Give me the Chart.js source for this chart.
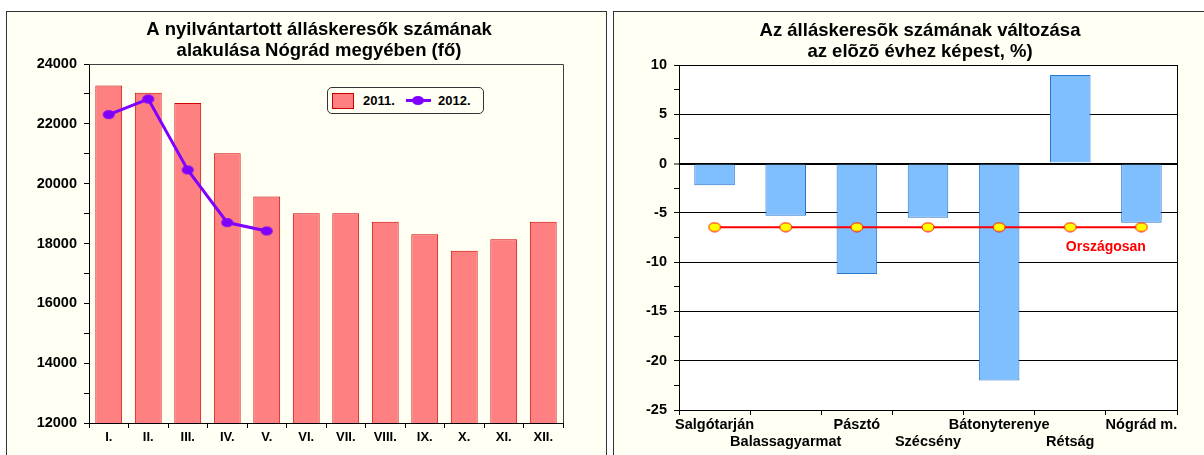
<!DOCTYPE html>
<html><head><meta charset="utf-8">
<script src="https://cdn.jsdelivr.net/npm/chart.js@4.4.1/dist/chart.umd.min.js"></script>
<style>
html,body{margin:0;padding:0;background:#fff;width:1204px;height:455px;overflow:hidden;font-family:"Liberation Sans",Arial,sans-serif;}
.panel{position:absolute;background:#fffff3;border:1px solid #333;box-sizing:border-box;}
#p1{left:6px;top:11px;width:601px;height:470px;}
#p2{left:613px;top:11px;width:620px;height:470px;}
canvas{position:absolute;}
#c1{left:7px;top:12px;}
#c2{left:614px;top:12px;}
#legend{position:absolute;left:327px;top:87px;width:157px;height:27px;border:1px solid #333;border-radius:5px;box-sizing:border-box;background:#fffff3;font-weight:bold;font-size:13px;color:#000;}
#legend span{position:absolute;display:block;}
#lgSq{left:4px;top:5px;width:22px;height:16px;background:#ff8080;border:1px solid #cc0000;box-sizing:border-box;}
#lgLine{left:78px;top:11px;width:25px;height:3px;background:#7f00ff;}
#lgDot{left:84px;top:8px;width:12px;height:9px;border-radius:50%;background:#7f00ff;}
.lt{top:5px;line-height:16px;}
</style>
</head>
<body>
<div class="panel" id="p1"></div>
<div class="panel" id="p2"></div>
<canvas id="c1" width="624" height="443"></canvas>
<canvas id="c2" width="612" height="443"></canvas>
<div id="legend"><span id="lgSq"></span><span class="lt" id="lg1" style="left:35px"></span><span id="lgLine"></span><span id="lgDot"></span><span class="lt" id="lg2" style="left:110px"></span></div>
<script>
// ---- data ----
const months = ['I.','II.','III.','IV.','V.','VI.','VII.','VIII.','IX.','X.','XI.','XII.'];
const jobseekers2011 = [23280, 23040, 22700, 21020, 19570, 19010, 19010, 18730, 18310, 17760, 18140, 18730];
const jobseekers2012 = [22310, 22830, 20460, 18700, 18420, null, null, null, null, null, null, null];
const leftSeriesNames = ['2011.', '2012.'];
const leftTitle = ['A nyilvántartott álláskeresők számának', 'alakulása Nógrád megyében (fő)'];
const leftYTickLabels = [12000, 14000, 16000, 18000, 20000, 22000, 24000];

const towns = ['Salgótarján','Balassagyarmat','Pásztó','Szécsény','Bátonyterenye','Rétság','Nógrád m.'];
const changePct = [-2.2, -5.3, -11.2, -5.5, -22.0, 9.0, -6.0];
const nationalPct = [-6.45, -6.45, -6.45, -6.45, -6.45, -6.45, -6.45];
const nationalLabel = 'Országosan';
const rightTitle = ['Az álláskeresõk számának változása', 'az elõzõ évhez képest, %)'];
const rightYTickLabels = [-25, -20, -15, -10, -5, 0, 5, 10];

const FONT = '"Liberation Sans", Arial, sans-serif';

function ellipsePoint(w, h, fill, stroke) {
  const c = document.createElement('canvas');
  c.width = w; c.height = h;
  const g = c.getContext('2d');
  g.beginPath();
  g.ellipse(w / 2, h / 2, w / 2 - 1, h / 2 - 1, 0, 0, Math.PI * 2);
  g.fillStyle = fill; g.fill();
  if (stroke) { g.strokeStyle = stroke; g.lineWidth = 1; g.stroke(); }
  return c;
}
const purpleDot = ellipsePoint(14, 11, '#7f00ff', null);
const yellowDot = ellipsePoint(14, 11, '#ffff00', '#ff0000');

document.getElementById('lg1').textContent = leftSeriesNames[0];
document.getElementById('lg2').textContent = leftSeriesNames[1];

// invisible spacer axis on the right (keeps the title centred where the original has it)
function spacerAxis(w) {
  return { type: 'linear', position: 'right', display: true,
    grid: { display: false, drawTicks: false }, border: { display: false },
    ticks: { display: false }, afterFit(s) { s.width = w; } };
}

const leftFrame = {
  id: 'leftFrame',
  afterDraw(chart) {
    const a = chart.chartArea, ctx = chart.ctx;
    ctx.save();
    ctx.strokeStyle = '#404040'; ctx.lineWidth = 1;
    ctx.beginPath();
    ctx.moveTo(Math.round(a.left), Math.round(a.top) + 0.5);
    ctx.lineTo(Math.round(a.right) + 0.5, Math.round(a.top) + 0.5);
    ctx.lineTo(Math.round(a.right) + 0.5, Math.round(a.bottom));
    ctx.stroke();
    ctx.restore();
  }
};
const rightBg = {
  id: 'rightBg',
  beforeDraw(chart) {
    const a = chart.chartArea, ctx = chart.ctx;
    ctx.save(); ctx.fillStyle = '#ffffff';
    ctx.fillRect(a.left, a.top, a.right - a.left, a.bottom - a.top);
    ctx.restore();
  },
  afterDraw(chart) {
    const a = chart.chartArea, ctx = chart.ctx;
    ctx.save(); ctx.strokeStyle = '#000'; ctx.lineWidth = 1;
    ctx.beginPath();
    ctx.moveTo(Math.round(a.right) + 0.5, Math.round(a.top));
    ctx.lineTo(Math.round(a.right) + 0.5, Math.round(a.bottom));
    ctx.stroke(); ctx.restore();
  }
};
const nationalLabelPlugin = {
  id: 'natLabel',
  afterDatasetsDraw(chart) {
    const x = chart.scales.x, y = chart.scales.y, ctx = chart.ctx;
    const n = towns.length;
    const px = (x.getPixelForValue(n - 2) + x.getPixelForValue(n - 1)) / 2;
    const py = y.getPixelForValue(nationalPct[n - 1]) + 20;
    ctx.save();
    ctx.font = 'bold 14px ' + FONT;
    ctx.fillStyle = '#ff0000'; ctx.textAlign = 'center'; ctx.textBaseline = 'middle';
    ctx.fillText(nationalLabel, px, py);
    ctx.restore();
  }
};

new Chart(document.getElementById('c1'), {
  type: 'bar',
  data: {
    labels: months,
    datasets: [
      { type: 'line', label: leftSeriesNames[1], data: jobseekers2012, borderColor: '#7f00ff', backgroundColor: '#7f00ff',
        borderWidth: 3, pointStyle: purpleDot, pointRadius: 6, order: 0, spanGaps: false },
      { type: 'bar', label: leftSeriesNames[0], data: jobseekers2011, backgroundColor: '#ff8080', borderColor: '#cc0000',
        borderWidth: 1, borderSkipped: false, barPercentage: 0.68, categoryPercentage: 1, order: 1 }
    ]
  },
  options: {
    responsive: false, animation: false, events: [], devicePixelRatio: 1,
    layout: { padding: 0 },
    plugins: {
      legend: { display: false }, tooltip: { enabled: false },
      title: { display: true, text: leftTitle, color: '#000',
        font: { family: FONT, size: 18.5, weight: 'bold', lineHeight: 1.12 }, padding: { top: 8, bottom: 2.6 } }
    },
    scales: {
      x: {
        grid: { offset: true, drawOnChartArea: false, tickLength: 5, color: '#000' },
        border: { color: '#000' },
        ticks: { color: '#000', font: { family: FONT, size: 13, weight: 'bold' }, padding: 2, maxRotation: 0, autoSkip: false },
        afterFit(s) { s.height = 32; }
      },
      y: {
        min: 12000, max: 24000,
        ticks: { stepSize: 1000, color: '#000', font: { family: FONT, size: 14.5, weight: 'bold' }, padding: 7,
          callback: v => leftYTickLabels.includes(v) ? String(v) : '' },
        grid: { drawOnChartArea: false, tickLength: 5, color: '#000' },
        border: { color: '#000' },
        afterFit(s) { s.width = 82; }
      },
      spacer: spacerAxis(68)
    }
  },
  plugins: [leftFrame]
});

new Chart(document.getElementById('c2'), {
  type: 'bar',
  data: {
    labels: towns.map((t, i) => i % 2 === 0 ? [t, ''] : ['', t]),
    datasets: [
      { type: 'line', label: nationalLabel, data: nationalPct, borderColor: '#ff0000', backgroundColor: '#ffff00',
        borderWidth: 2, pointStyle: yellowDot, pointRadius: 6, order: 0 },
      { type: 'bar', label: 'változás', data: changePct, backgroundColor: '#80bfff', borderColor: '#2a78cc',
        borderWidth: 1, barPercentage: 0.57, categoryPercentage: 1, order: 1 }
    ]
  },
  options: {
    responsive: false, animation: false, events: [], devicePixelRatio: 1,
    layout: { padding: 0 },
    plugins: {
      legend: { display: false }, tooltip: { enabled: false },
      title: { display: true, text: rightTitle, color: '#000',
        font: { family: FONT, size: 18.5, weight: 'bold', lineHeight: 1.12 }, padding: { top: 9, bottom: 2.6 } }
    },
    scales: {
      x: {
        grid: { offset: true, drawOnChartArea: false, tickLength: 5, color: '#000' },
        border: { color: '#000' },
        ticks: { color: '#000', font: { family: FONT, size: 14.5, weight: 'bold', lineHeight: 1.2 }, padding: 1, maxRotation: 0, autoSkip: false },
        afterFit(s) { s.height = 45; }
      },
      y: {
        min: -25, max: 10,
        ticks: { stepSize: 2.5, color: '#000', font: { family: FONT, size: 14.5, weight: 'bold' }, padding: 7,
          callback: v => rightYTickLabels.includes(v) ? String(v) : '' },
        grid: {
          tickLength: 5, tickColor: '#000', tickWidth: 1,
          color: c => (c.tick && rightYTickLabels.includes(c.tick.value)) ? '#000' : 'rgba(0,0,0,0)',
          lineWidth: c => (c.tick && c.tick.value === 0) ? 2 : 1
        },
        border: { color: '#000' },
        afterFit(s) { s.width = 65; }
      },
      spacer: spacerAxis(49)
    }
  },
  plugins: [rightBg, nationalLabelPlugin]
});
</script>
</body></html>
